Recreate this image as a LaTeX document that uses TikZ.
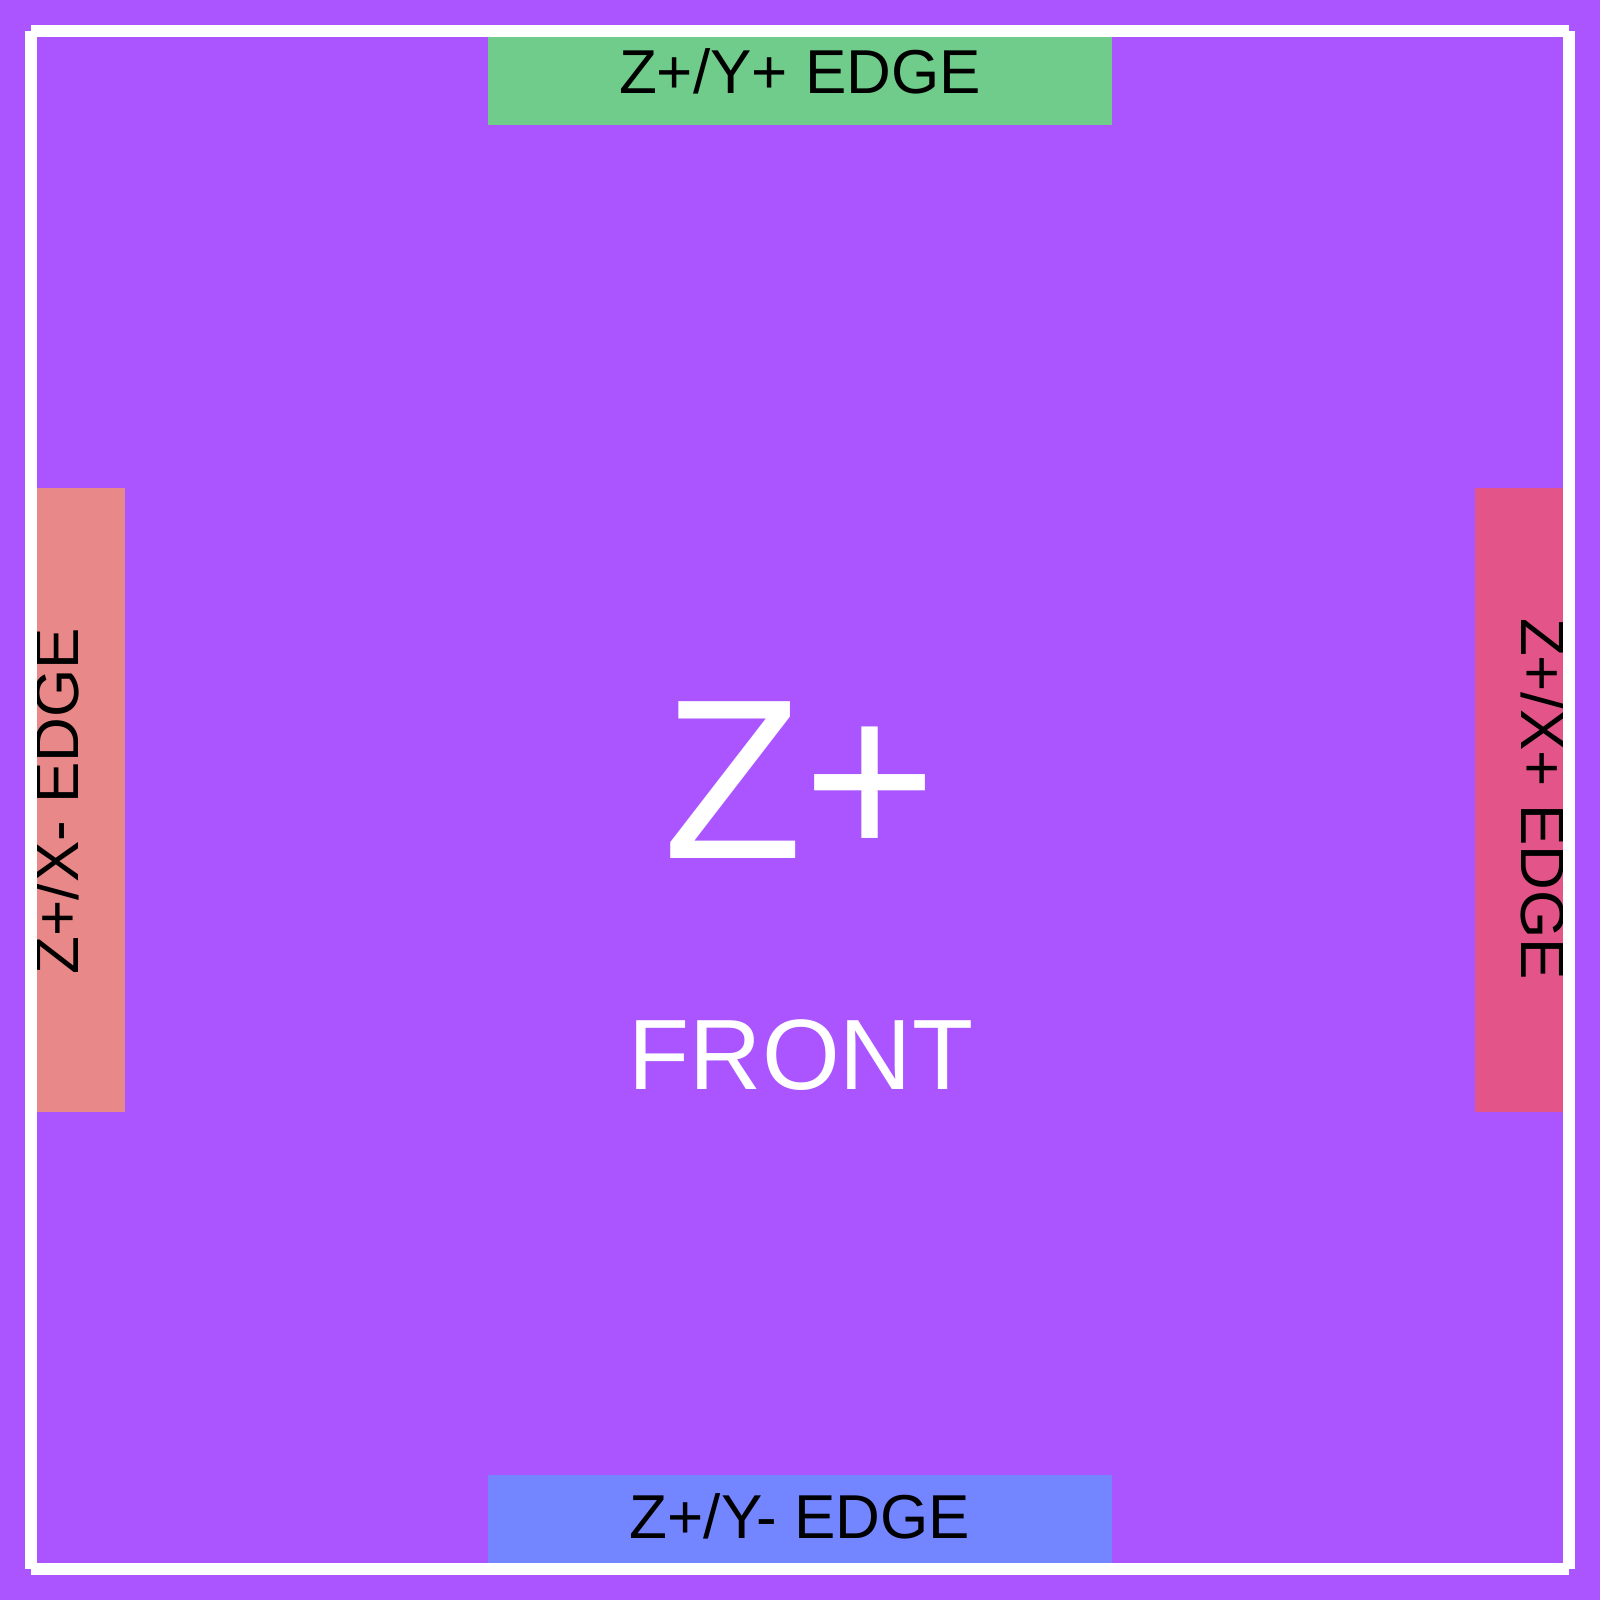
\documentclass[tikz,border=0pt]{standalone}
\usepackage{fontspec}
\setmainfont{Liberation Sans}
\definecolor{bgpurple}{RGB}{170,85,255}
\definecolor{edgegreen}{RGB}{112,204,138}
\definecolor{edgeblue}{RGB}{116,134,255}
\definecolor{edgesalmon}{RGB}{232,136,136}
\definecolor{edgepink}{RGB}{227,85,136}
\tikzset{
  edgelabel/.style={inner sep=0pt, anchor=base, text=black, font=\fontsize{62}{62}\selectfont},
  bigtitle/.style={inner sep=0pt, anchor=base, text=white, font=\fontsize{228}{228}\selectfont},
  subtitle/.style={inner sep=0pt, anchor=base, text=white, font=\fontsize{100}{100}\selectfont},
  frameline/.style={draw=white, line width=12pt, line cap=butt}
}
\begin{document}
\begin{tikzpicture}[x=1pt,y=-1pt]
\useasboundingbox (0,0) rectangle (1600,1600);
\fill[bgpurple] (0,0) rectangle (1600,1600);
% edge strips
\fill[edgegreen] (488,37) rectangle (1112,125);
\fill[edgeblue] (488,1475) rectangle (1112,1563);
\fill[edgesalmon] (37,488) rectangle (125,1112);
\fill[edgepink] (1475,488) rectangle (1563,1112);
% labels
\node[edgelabel] (ypos) at (800,93.5) {Z+/Y+ EDGE};
\node[edgelabel] (yneg) at (800,1538) {Z+/Y- EDGE};
\node[edgelabel, rotate=90] (xneg) at (78.5,801) {Z+/X- EDGE};
\node[edgelabel, rotate=-90] (xpos) at (1521,799) {Z+/X+ EDGE};
\node[bigtitle] (face) at (800,858) {Z+};
\node[subtitle] (front) at (801,1089) {FRONT};
% frame
\draw[frameline] (31,31) -- (1569,31) (1569,31) -- (1569,1569)
  (1569,1569) -- (31,1569) (31,1569) -- (31,31);
\end{tikzpicture}
\end{document}
